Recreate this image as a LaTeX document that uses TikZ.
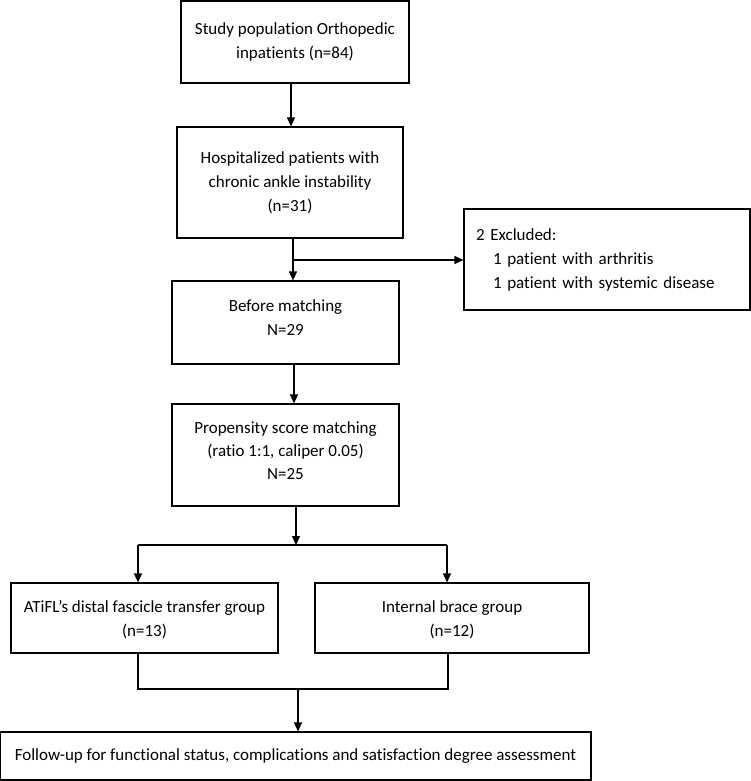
\documentclass[tikz,border=0pt]{standalone}
\usepackage{fontspec}
\setmainfont[Ligatures=NoCommon]{Carlito}
\usetikzlibrary{arrows.meta}
\begin{document}
\begin{tikzpicture}[x=1pt,y=-1pt,
  box/.style={draw, line width=1.2pt, inner sep=0pt, align=center, font=\fontsize{17}{24}\selectfont},
  arr/.style={line width=1.2pt, -{Triangle[length=9pt,width=8pt]}},
  ln/.style={line width=1.2pt}]
\useasboundingbox (0,0) rectangle (751,781);
\node[box, minimum width=228pt, minimum height=82pt] (b1) at (295,42) {Study population Orthopedic\\inpatients (n=84)};
\node[box, minimum width=226pt, minimum height=111pt] (b2) at (290,182.5) {Hospitalized patients with\\chronic ankle instability\\(n=31)};
\node[box, minimum width=286pt, minimum height=101pt, text width=262pt, inner xsep=12pt, align=left] (ex) at (607,259.5) {2 Excluded:\\\hspace*{17pt}1 patient with arthritis\\\hspace*{17pt}1 patient with systemic disease};
\node[box, minimum width=227pt, minimum height=83pt] (b3) at (285.5,322.5) {};
\node[font=\fontsize{17}{24}\selectfont, align=center, inner sep=0pt] (t3) at (285.5,317.5) {Before matching\\N=29};
\node[box, minimum width=227pt, minimum height=102pt] (b4) at (285.5,455) {};
\node[font=\fontsize{17}{23}\selectfont, align=center, inner sep=0pt] (t4) at (285.5,451) {Propensity score matching\\(ratio 1:1, caliper 0.05)\\N=25};
\node[box, minimum width=267pt, minimum height=70pt] (gl) at (144.5,618) {};
\node[font=\fontsize{17}{24}\selectfont, align=center, inner sep=0pt] (tl) at (144.5,620) {ATiFL's distal fascicle transfer group\\(n=13)};
\node[box, minimum width=274pt, minimum height=70pt] (gr) at (452,618) {};
\node[font=\fontsize{17}{24}\selectfont, align=center, inner sep=0pt] (tr) at (452,620) {Internal brace group\\(n=12)};
\node[box, minimum width=591pt, minimum height=48pt] (fu) at (295.5,756) {Follow-up for functional status, complications and satisfaction degree assessment};
\coordinate (a1) at (291,0);
\coordinate (j1) at (293,260);
\coordinate (a3) at (294,0);
\coordinate (j2) at (296,545);
\coordinate (jl) at (138,545);
\coordinate (jr) at (447,545);
\coordinate (ml) at (138,689);
\coordinate (mr) at (448,689);
\coordinate (m) at (298,689);
\draw[arr] (b1.south -| a1) -- (b2.north -| a1);
\draw[ln] (b2.south -| j1) -- (j1);
\draw[arr] (j1) -- (b3.north -| j1);
\draw[arr] (j1) -- (ex.west |- j1);
\draw[arr] (b3.south -| a3) -- (b4.north -| a3);
\draw[arr] (b4.south -| j2) -- (j2);
\draw[ln] (jl) -- (jr);
\draw[arr] (jl) -- (gl.north -| jl);
\draw[arr] (jr) -- (gr.north -| jr);
\draw[ln] (gl.south -| ml) -- (ml) -- (mr) -- (gr.south -| mr);
\draw[arr] (m) -- (fu.north -| m);
\end{tikzpicture}
\end{document}
